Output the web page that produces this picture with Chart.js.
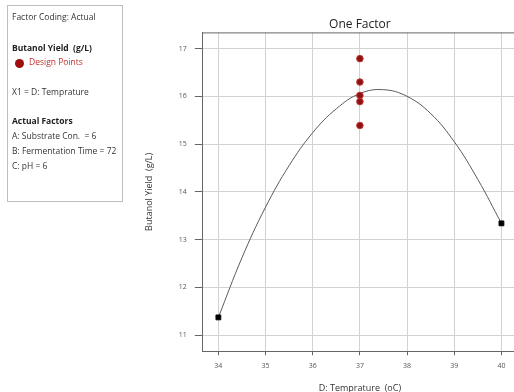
<!DOCTYPE html>
<html>
<head>
<meta charset="utf-8">
<script src="https://cdn.jsdelivr.net/npm/chart.js@4"></script>
<style>
  html, body { margin: 0; padding: 0; background: #fff; overflow: hidden; width: 514px; height: 392px; }
  #wrap { position: absolute; left: 0; top: 0; width: 530px; height: 392px; }
  #info {
    position: absolute; left: 7px; top: 5px; width: 116px; height: 197px;
    border: 1px solid #bdbdbd; box-sizing: border-box;
    font-family: "Open Sans", sans-serif; font-size: 8.5px; color: #333;
  }
  #info div { position: absolute; left: 4px; white-space: nowrap; }
  #info .b { font-weight: bold; color: #222; }
  #info .dot { position: absolute; left: 7px; width: 9px; height: 9px; border-radius: 50%; background: #a00d0d; }
</style>
</head>
<body>
<div id="wrap"><canvas id="grafico"></canvas></div>
<div id="info">
  <div style="top:5px">Factor Coding: Actual</div>
  <div class="b" style="top:36px">Butanol Yield&nbsp; (g/L)</div>
  <span class="dot" style="top:53px"></span>
  <div style="top:50px;left:21px;color:#c0302c">Design Points</div>
  <div style="top:80px">X1 = D: Temprature</div>
  <div class="b" style="top:109px">Actual Factors</div>
  <div style="top:124px">A: Substrate Con.&nbsp; = 6</div>
  <div style="top:139px">B: Fermentation Time = 72</div>
  <div style="top:154px">C: pH = 6</div>
</div>
<script>
// eixo X: temperatura (oC)
const xTicks = [34, 35, 36, 37, 38, 39, 40];
const yTicks = [11, 12, 13, 14, 15, 16, 17];

// curva do modelo
const curvaX = [34, 34.5, 35, 35.5, 36, 36.5, 37, 37.5, 38, 38.5, 39, 39.5, 40];
const curvaY = [11.37, 12.62, 13.68, 14.55, 15.24, 15.74, 16.06, 16.14, 16.00, 15.64, 15.05, 14.26, 13.34];

// pontos de projeto (vermelhos) em 37
const pontosX = [37, 37, 37, 37, 37];
const pontosY = [16.79, 16.30, 16.02, 15.89, 15.39];

// pontos extremos (quadrados pretos)
const extremosX = [34, 40];
const extremosY = [11.37, 13.34];

const fonte = '"Open Sans", sans-serif';

const molduraTopo = {
    id: 'molduraTopo',
    afterDraw(chart) {
        const a = chart.chartArea;
        const ctx = chart.ctx;
        ctx.save();
        ctx.strokeStyle = '#666';
        ctx.lineWidth = 1;
        ctx.beginPath();
        ctx.moveTo(a.left, a.top + 0.5);
        ctx.lineTo(a.right, a.top + 0.5);
        ctx.stroke();
        ctx.restore();
    }
};

const ctx = document.getElementById('grafico').getContext('2d');
new Chart(ctx, {
    type: 'scatter',
    data: {
        datasets: [
            {
                label: 'Design Points',
                data: pontosX.map((x, i) => ({ x: x, y: pontosY[i] })),
                backgroundColor: '#8e1212',
                borderColor: '#c23a3a',
                borderWidth: 1,
                pointRadius: 3.3,
                order: 0
            },
            {
                label: 'Extremos',
                data: extremosX.map((x, i) => ({ x: x, y: extremosY[i] })),
                backgroundColor: '#000',
                borderColor: '#000',
                pointStyle: 'rect',
                pointRadius: 3.4,
                order: 0
            },
            {
                label: 'Modelo',
                data: curvaX.map((x, i) => ({ x: x, y: curvaY[i] })),
                showLine: true,
                borderColor: '#5a5a5a',
                borderWidth: 1,
                pointRadius: 0,
                tension: 0.4,
                fill: false,
                order: 1
            }
        ]
    },
    options: {
        responsive: true,
        maintainAspectRatio: false,
        animation: false,
        events: [],
        layout: { padding: { left: 134, right: 13, top: 0, bottom: 0 } },
        plugins: {
            legend: { display: false },
            tooltip: { enabled: false },
            title: {
                display: true,
                text: 'One Factor',
                fullSize: false,
                color: '#222',
                font: { family: fonte, size: 12, weight: 'normal' },
                padding: { top: 17.5, bottom: 0.5 }
            }
        },
        scales: {
            x: {
                type: 'linear',
                min: 33.67,
                max: 40.33,
                afterBuildTicks: s => { s.ticks = xTicks.map(v => ({ value: v })); },
                ticks: { color: '#555', font: { family: fonte, size: 7 }, padding: 6 },
                grid: { color: '#d2d2d2', tickLength: 4, tickColor: '#666' },
                border: { color: '#666', width: 1 },
                title: {
                    display: true,
                    text: 'D: Temprature  (oC)',
                    color: '#333',
                    font: { family: fonte, size: 9 },
                    padding: { top: 7, bottom: -1.5 }
                }
            },
            y: {
                type: 'linear',
                min: 10.66,
                max: 17.34,
                afterBuildTicks: s => { s.ticks = yTicks.map(v => ({ value: v })); },
                ticks: { color: '#555', font: { family: fonte, size: 7 }, padding: 8 },
                grid: { color: '#d2d2d2', tickLength: 8, tickColor: '#666' },
                border: { color: '#666', width: 1 },
                title: {
                    display: true,
                    text: 'Butanol Yield  (g/L)',
                    color: '#333',
                    font: { family: fonte, size: 9 },
                    padding: { top: 10, bottom: 16 }
                }
            }
        }
    },
    plugins: [molduraTopo]
});
</script>
</body>
</html>
